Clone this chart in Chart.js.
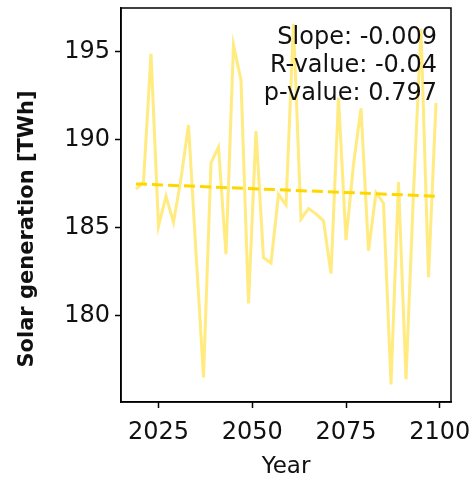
<!DOCTYPE html>
<html>
<head>
<meta charset="utf-8">
<script src="https://cdn.jsdelivr.net/npm/chart.js@4.4.1/dist/chart.umd.min.js"></script>
<style>
  html, body { margin: 0; padding: 0; background: #fff; }
</style>
</head>
<body>
<canvas id="solarChart" width="476" height="477"></canvas>
<script>
// yearly samples (every 2nd year)
const years = [
  2019, 2021, 2023, 2025, 2027, 2029, 2031, 2033, 2035, 2037,
  2039, 2041, 2043, 2045, 2047, 2049, 2051, 2053, 2055, 2057,
  2059, 2061, 2063, 2065, 2067, 2069, 2071, 2073, 2075, 2077,
  2079, 2081, 2083, 2085, 2087, 2089, 2091, 2093, 2095, 2097,
  2099
];
const solarGen = [
  187.2, 187.6, 194.9, 185.1, 186.8, 185.3, 187.8, 190.85, 183.6, 176.5,
  188.7, 189.6, 183.5, 195.4, 193.4, 180.7, 190.5, 183.3, 183.0, 186.9,
  186.3, 196.6, 185.5, 186.1, 185.8, 185.4, 182.4, 192.4, 184.3, 188.6,
  191.8, 183.7, 187.0, 186.4, 176.1, 187.6, 176.4, 187.0, 196.3, 182.2,
  192.1
];
// regression line end points
const trendYears = [2019, 2099];
const trendValues = [187.5, 186.8];

const xTickValues = [2025, 2050, 2075, 2100];
const yTickValues = [180, 185, 190, 195];
const statLines = ["Slope: -0.009", "R-value: -0.04", "p-value: 0.797"];
const yTitle = "Solar generation [TWh]";

const lineColor = "rgba(255, 215, 0, 0.5)";
const trendColor = "#FFD700";
const fontFamily = '"DejaVu Sans", sans-serif';

// frame around the plot, stats text and the y title
const framePlugin = {
  id: "framePlugin",
  afterDatasetsDraw(chart) {
    const { ctx, chartArea } = chart;
    ctx.save();
    ctx.font = "24px " + fontFamily;
    ctx.fillStyle = "#111";
    ctx.textAlign = "right";
    ctx.textBaseline = "alphabetic";
    statLines.forEach((line, i) => {
      ctx.fillText(line, chartArea.right - 14, chartArea.top + 36 + i * 28);
    });
    ctx.restore();
  },
  afterDraw(chart) {
    const { ctx, chartArea } = chart;
    ctx.save();
    ctx.strokeStyle = "#000";
    ctx.lineWidth = 1.5;
    ctx.strokeRect(chartArea.left, chartArea.top,
      chartArea.right - chartArea.left, chartArea.bottom - chartArea.top);

    ctx.translate(28, 229);
    ctx.rotate(-Math.PI / 2);
    ctx.font = "bold 21px " + fontFamily;
    ctx.fillStyle = "#111";
    ctx.textAlign = "center";
    ctx.textBaseline = "middle";
    ctx.fillText(yTitle, 0, 0);
    ctx.restore();
  }
};

const ctx = document.getElementById("solarChart").getContext("2d");
new Chart(ctx, {
  type: "line",
  data: {
    datasets: [
      {
        label: "Solar generation",
        data: years.map((y, i) => ({ x: y, y: solarGen[i] })),
        borderColor: lineColor,
        borderWidth: 3,
        pointRadius: 0,
        tension: 0,
        order: 2
      },
      {
        label: "Trend",
        data: trendYears.map((y, i) => ({ x: y, y: trendValues[i] })),
        borderColor: trendColor,
        borderWidth: 3,
        borderDash: [11, 5],
        pointRadius: 0,
        tension: 0,
        order: 1
      }
    ]
  },
  options: {
    responsive: false,
    animation: false,
    devicePixelRatio: 1,
    layout: { padding: { top: 8, right: 25, left: 0, bottom: 0 } },
    plugins: {
      legend: { display: false },
      tooltip: { enabled: false }
    },
    scales: {
      x: {
        type: "linear",
        min: 2015,
        max: 2103,
        afterBuildTicks: (scale) => {
          scale.ticks = xTickValues.map((v) => ({ value: v }));
        },
        afterFit: (scale) => {
          scale.height = 75;
          scale.paddingLeft = 0;
          scale.paddingRight = 0;
        },
        grid: {
          display: true,
          drawOnChartArea: false,
          drawTicks: true,
          tickLength: 6,
          tickWidth: 1.5,
          color: "#000"
        },
        border: { display: true, color: "#000", width: 1.5 },
        ticks: {
          color: "#111",
          font: { family: fontFamily, size: 24 },
          padding: 10,
          maxRotation: 0,
          callback: (v) => String(v)
        },
        title: {
          display: true,
          text: "Year",
          color: "#111",
          font: { family: fontFamily, size: 23, lineHeight: 0.85 },
          padding: { top: 0, bottom: 0 }
        }
      },
      y: {
        min: 175.1,
        max: 197.5,
        afterBuildTicks: (scale) => {
          scale.ticks = yTickValues.map((v) => ({ value: v }));
        },
        afterFit: (scale) => {
          scale.width = 121;
          scale.paddingTop = 0;
          scale.paddingBottom = 0;
        },
        grid: {
          display: true,
          drawOnChartArea: false,
          drawTicks: true,
          tickLength: 6,
          tickWidth: 1.5,
          color: "#000"
        },
        border: { display: true, color: "#000", width: 1.5 },
        ticks: {
          color: "#111",
          font: { family: fontFamily, size: 24 },
          padding: 5,
          callback: (v) => String(v)
        }
      }
    }
  },
  plugins: [framePlugin]
});
</script>
</body>
</html>
